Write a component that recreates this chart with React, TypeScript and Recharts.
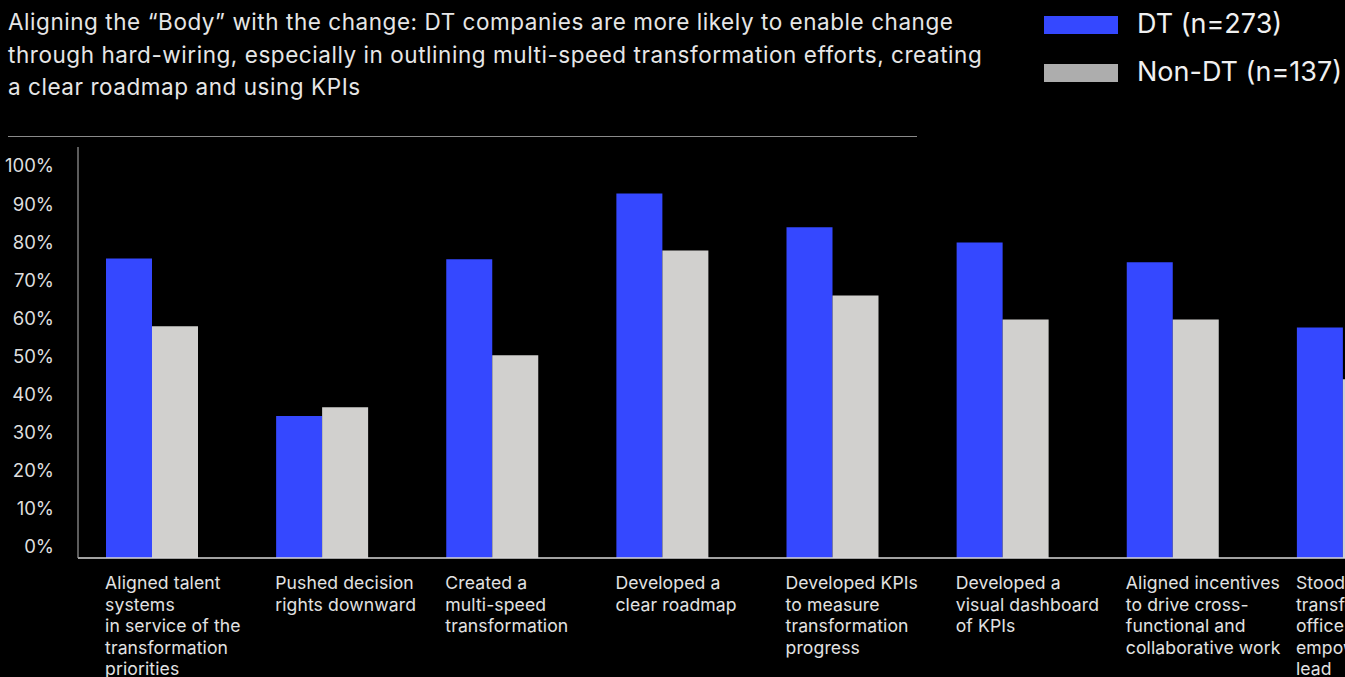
import { BarChart, Bar, XAxis, YAxis } from "recharts";

const categories = [
  ["Aligned talent", "systems", "in service of the", "transformation", "priorities"],
  ["Pushed decision", "rights downward"],
  ["Created a", "multi-speed", "transformation"],
  ["Developed a", "clear roadmap"],
  ["Developed KPIs", "to measure", "transformation", "progress"],
  ["Developed a", "visual dashboard", "of KPIs"],
  ["Aligned incentives", "to drive cross-", "functional and", "collaborative work"],
  ["Stood up a", "transformation", "office that is", "empowered to", "lead"],
];
const dtValues = [78.7, 37.3, 78.5, 95.8, 86.9, 82.9, 77.7, 60.6];
const nonDtValues = [60.9, 39.6, 53.3, 80.8, 69.0, 62.7, 62.7, 47.0];
const yTicks = [0, 10, 20, 30, 40, 50, 60, 70, 80, 90, 100];

const titleLines = [
  "Aligning the \u201cBody\u201d with the change: DT companies are more likely to enable change",
  "through hard-wiring, especially in outlining multi-speed transformation efforts, creating",
  "a clear roadmap and using KPIs",
];

const BLUE = "#3548ff";
const GREY = "#d1d0ce";
const FONT = "Inter, 'Noto Sans', sans-serif";

const data = categories.map((lines, i) => ({
  name: lines.join(" "),
  dt: dtValues[i],
  nonDt: nonDtValues[i],
}));

function YTick(props: any) {
  const { x, y, payload } = props;
  return (
    <text x={x - 16} y={y - 12} textAnchor="end" dominantBaseline="central" fill="#dedede" fontSize={18.5} fontFamily={FONT}>
      {payload.value}%
    </text>
  );
}

function XTick(props: any) {
  const { x, y, index } = props;
  const lines = categories[index] || [];
  return (
    <text x={x - 58} y={y + 23} fill="#e2e2e2" fontSize={17.6} fontFamily={FONT} letterSpacing={0.1}>
      {lines.map((l, i) => (
        <tspan key={i} x={x - 58} dy={i === 0 ? 0 : 21.6}>
          {l}
        </tspan>
      ))}
    </text>
  );
}

export default function App() {
  return (
    <div
      style={{
        position: "absolute",
        left: 0,
        top: 0,
        width: 1345,
        height: 677,
        overflow: "hidden",
        background: "#000",
        fontFamily: FONT,
      }}
    >
      <div style={{ position: "absolute", left: 8, top: 6, color: "#e6e6e6", fontSize: 22.5, letterSpacing: 0.55, lineHeight: "32.5px" }}>
        {titleLines.map((t, i) => (
          <div key={i} style={{ whiteSpace: "nowrap" }}>{t}</div>
        ))}
      </div>
      <div style={{ position: "absolute", left: 8, top: 136, width: 909, height: 1, background: "#8a8a8a" }} />

      <div style={{ position: "absolute", left: 1044, top: 16, width: 74, height: 18, background: BLUE }} />
      <div style={{ position: "absolute", left: 1137, top: 4, color: "#f0f0f0", fontSize: 27, lineHeight: "40px", whiteSpace: "nowrap" }}>
        DT (n=273)
      </div>
      <div style={{ position: "absolute", left: 1044, top: 64, width: 74, height: 18, background: "#adadad" }} />
      <div style={{ position: "absolute", left: 1137, top: 52, color: "#f0f0f0", fontSize: 27, lineHeight: "40px", whiteSpace: "nowrap" }}>
        Non-DT (n=137)
      </div>

      <div style={{ position: "absolute", left: 0, top: 0 }}>
        <BarChart
          width={1439}
          height={677}
          data={data}
          margin={{ top: 147, right: 0, bottom: 0, left: 0 }}
          barGap={0}
        >
          <XAxis
            dataKey="name"
            height={119}
            axisLine={{ stroke: "#d8d8d8", strokeWidth: 1.5 }}
            tickLine={false}
            interval={0}
            tick={<XTick />}
          />
          <YAxis
            width={78}
            domain={[0, 108]}
            ticks={yTicks}
            allowDataOverflow
            axisLine={{ stroke: "#9a9a9a", strokeWidth: 1.2 }}
            tickLine={false}
            tick={<YTick />}
          />
          <Bar dataKey="dt" fill={BLUE} barSize={46} isAnimationActive={false} />
          <Bar dataKey="nonDt" fill={GREY} barSize={46} isAnimationActive={false} />
          <Bar dataKey={() => 0} fill="transparent" barSize={22} legendType="none" isAnimationActive={false} />
        </BarChart>
      </div>
    </div>
  );
}
